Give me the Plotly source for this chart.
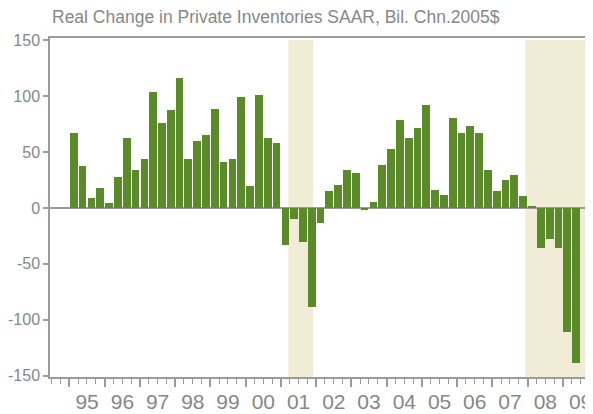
import plotly.graph_objects as go

years = list(range(1995, 2010))
year_labels = [f"{y % 100:02d}" for y in years]
quarters = [f"{y}Q{q}" for y in years for q in range(1, 5)][:58]
values = [
    67, 38, 9, 18,
    4.5, 28, 63, 34,
    44, 103.5, 76, 88,
    116.5, 44, 60, 65.5,
    89, 41, 44, 99,
    19.5, 101.5, 63, 58.5,
    -33.5, -9.5, -30, -89,
    -13.5, 15, 21, 34,
    31, -2, 5, 38.5,
    52.5, 79, 63, 71.5,
    92, 16.5, 12, 80.5,
    67, 73, 67, 34,
    15, 25, 29.5, 10.5,
    2, -36, -28, -36,
    -111, -139,
]
recessions = [("2001-03-18", "2001-12-01"), ("2007-12-08", "2010-06-01")]
title_text = "Real Change in Private Inventories SAAR, Bil. Chn.2005$"
ytick_vals = [-150, -100, -50, 0, 50, 100, 150]
ytick_text = ["-150", "-100", "-50", "0", "50", "100", "150"]

mid_month = {1: "02-15", 2: "05-16", 3: "08-16", 4: "11-15"}
xdates = [f"{q[:4]}-{mid_month[int(q[-1])]}" for q in quarters]
label_dates = [f"{y}-07-02" for y in years]

GRAY = "#9b9b9b"
TEXT = "#878787"
GREEN = "#5b8a29"
SHADE = "#f0ecd5"
FONT = "Liberation Sans, Arial, sans-serif"
XRANGE = ["1994-06-13", "2009-11-08"]

# page has an 8px body margin: figure is 585x406 drawn at (8, 8)
W, H = 585, 406
ML, MT, MB = 42, 30, 37
PH = H - MT - MB

fig = go.Figure()
fig.add_trace(go.Bar(
    x=xdates, y=values,
    width=80 * 86400000,
    marker=dict(color=GREEN, line=dict(width=0)),
    hoverinfo="x+y",
))
# invisible helper trace so the label axis is drawn
fig.add_trace(go.Scatter(x=label_dates[:1], y=[0], xaxis="x2", mode="markers",
                         marker=dict(opacity=0), hoverinfo="skip"))

for x0, x1 in recessions:
    fig.add_shape(type="rect", xref="x", yref="y", x0=x0, x1=x1,
                  y0=-151.3, y1=150.3, fillcolor=SHADE, line=dict(width=0),
                  layer="below")

fig.add_annotation(text=title_text, xref="paper", yref="paper",
                   x=0, y=1 + (MT + 3) / PH, xanchor="left", yanchor="top",
                   showarrow=False, font=dict(family=FONT, size=17.5, color=TEXT))

fig.update_layout(
    width=W, height=H,
    margin=dict(l=ML, r=0, t=MT, b=MB),
    paper_bgcolor="white", plot_bgcolor="white",
    showlegend=False, bargap=0,
    font=dict(family=FONT, color=TEXT),
    xaxis=dict(
        type="date", range=XRANGE, automargin=False,
        tick0="1995-01-01", dtick="M12",
        ticks="outside", ticklen=8, tickwidth=1.5, tickcolor=GRAY,
        minor=dict(dtick="M3", tick0="1995-01-01", ticks="outside", ticklen=5,
                   tickwidth=1.2, tickcolor=GRAY, showgrid=False),
        showticklabels=False,
        showline=True, linecolor=GRAY, linewidth=1.5, mirror=True,
        showgrid=False, zeroline=False,
    ),
    xaxis2=dict(
        type="date", range=XRANGE, automargin=False,
        overlaying="x", anchor="y", side="bottom",
        tickmode="array", tickvals=label_dates, ticktext=year_labels,
        ticks="", showline=False, showgrid=False, zeroline=False,
        ticklabelstandoff=10,
        tickfont=dict(family=FONT, size=21, color=TEXT),
    ),
    yaxis=dict(
        range=[-151.3, 152.2], automargin=False,
        tickmode="array", tickvals=ytick_vals, ticktext=ytick_text,
        ticks="outside", ticklen=5, tickwidth=1.5, tickcolor=GRAY,
        showline=True, linecolor=GRAY, linewidth=1.5,
        showgrid=False,
        zeroline=True, zerolinecolor=GRAY, zerolinewidth=1.5,
        tickfont=dict(family=FONT, size=16, color=TEXT),
        ticklabelstandoff=0,
    ),
)

fig.write_html("out.html")
